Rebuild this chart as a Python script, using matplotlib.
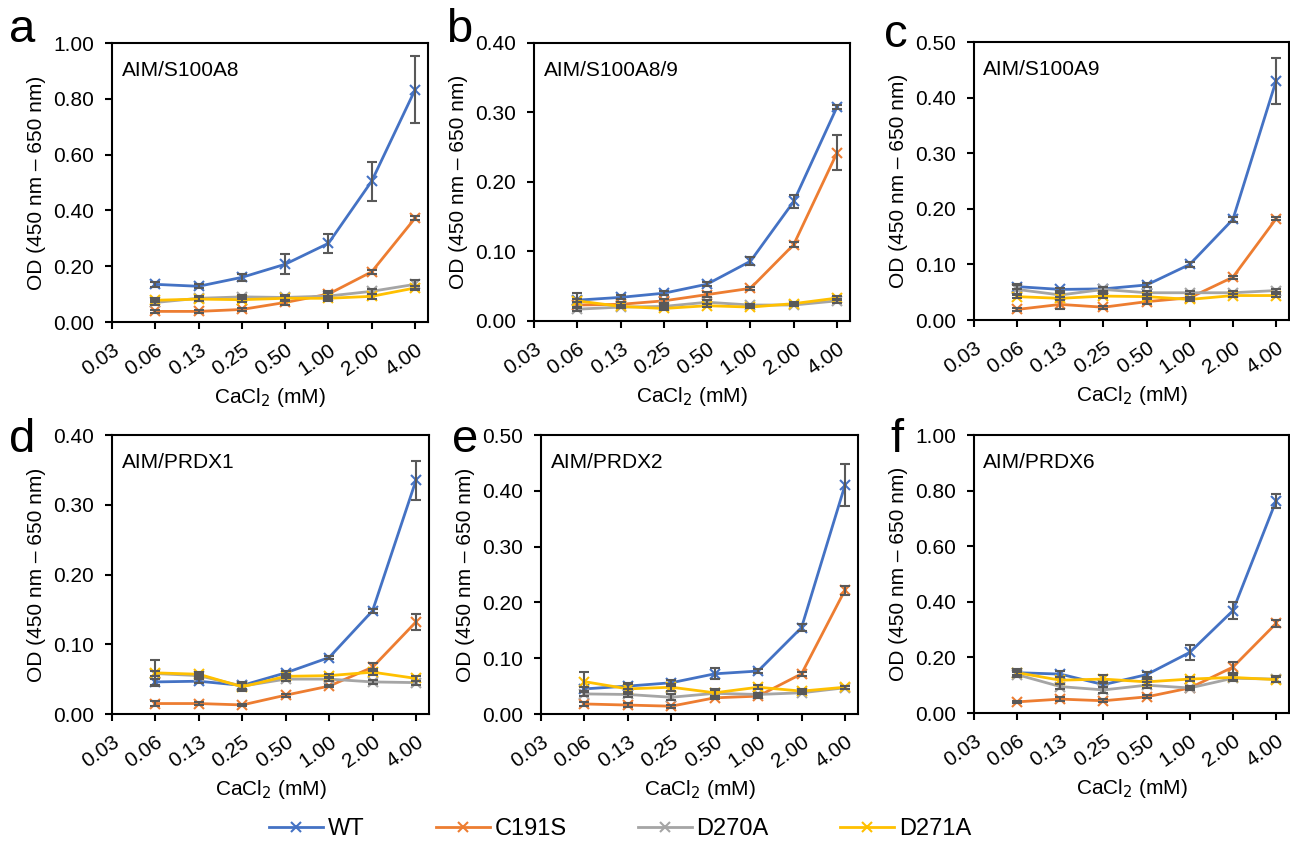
import numpy as np
import matplotlib
matplotlib.use("Agg")
import matplotlib.pyplot as plt
from matplotlib.lines import Line2D

plt.rcParams['font.family'] = ['Liberation Sans', 'DejaVu Sans']

conc_labels = ["0.03", "0.06", "0.13", "0.25", "0.50", "1.00", "2.00", "4.00"]
series = ["WT", "C191S", "D270A", "D271A"]
colors = ["#4472C4", "#ED7D31", "#A5A5A5", "#FFC000"]

titles = ["AIM/S100A8", "AIM/S100A8/9", "AIM/S100A9", "AIM/PRDX1", "AIM/PRDX2", "AIM/PRDX6"]
letters = ["a", "b", "c", "d", "e", "f"]
ymax = [1.0, 0.4, 0.5, 0.4, 0.5, 1.0]

# panel a  (mean values then error values; order WT, C191S, D270A, D271A)
a_mean = [[0.135, 0.128, 0.160, 0.207, 0.282, 0.505, 0.832],
          [0.038, 0.038, 0.045, 0.070, 0.100, 0.180, 0.372],
          [0.070, 0.085, 0.090, 0.088, 0.093, 0.110, 0.135],
          [0.078, 0.082, 0.080, 0.085, 0.085, 0.092, 0.122]]
a_err = [[0.008, 0.007, 0.013, 0.035, 0.033, 0.070, 0.120],
         [0.005, 0.004, 0.005, 0.010, 0.010, 0.008, 0.007],
         [0.010, 0.008, 0.008, 0.008, 0.010, 0.008, 0.015],
         [0.008, 0.008, 0.008, 0.008, 0.008, 0.008, 0.008]]
# panel b
b_mean = [[0.030, 0.034, 0.040, 0.053, 0.086, 0.172, 0.308],
          [0.023, 0.024, 0.029, 0.038, 0.047, 0.110, 0.242],
          [0.017, 0.020, 0.021, 0.027, 0.023, 0.023, 0.029],
          [0.029, 0.021, 0.018, 0.022, 0.020, 0.025, 0.033]]
b_err = [[0.002, 0.003, 0.003, 0.003, 0.006, 0.009, 0.003],
         [0.004, 0.003, 0.003, 0.004, 0.002, 0.003, 0.025],
         [0.003, 0.002, 0.002, 0.003, 0.002, 0.002, 0.003],
         [0.011, 0.002, 0.002, 0.002, 0.002, 0.002, 0.003]]
# panel c
c_mean = [[0.060, 0.055, 0.056, 0.063, 0.100, 0.181, 0.430],
          [0.019, 0.028, 0.023, 0.033, 0.040, 0.077, 0.182],
          [0.055, 0.045, 0.055, 0.049, 0.049, 0.049, 0.053],
          [0.042, 0.039, 0.043, 0.042, 0.037, 0.044, 0.044]]
c_err = [[0.005, 0.003, 0.004, 0.003, 0.004, 0.004, 0.042],
         [0.002, 0.008, 0.003, 0.004, 0.002, 0.003, 0.003],
         [0.008, 0.004, 0.004, 0.003, 0.003, 0.003, 0.003],
         [0.003, 0.003, 0.003, 0.003, 0.003, 0.003, 0.003]]
# panel d
d_mean = [[0.046, 0.047, 0.041, 0.059, 0.081, 0.148, 0.335],
          [0.015, 0.015, 0.013, 0.027, 0.040, 0.067, 0.132],
          [0.058, 0.055, 0.040, 0.050, 0.050, 0.046, 0.045],
          [0.059, 0.057, 0.039, 0.054, 0.055, 0.060, 0.051]]
d_err = [[0.004, 0.003, 0.005, 0.003, 0.002, 0.003, 0.028],
         [0.003, 0.002, 0.002, 0.002, 0.002, 0.006, 0.012],
         [0.004, 0.003, 0.004, 0.003, 0.003, 0.003, 0.003],
         [0.019, 0.003, 0.006, 0.003, 0.003, 0.004, 0.003]]
# panel e
e_mean = [[0.045, 0.050, 0.056, 0.072, 0.077, 0.155, 0.410],
          [0.018, 0.016, 0.014, 0.029, 0.032, 0.072, 0.222],
          [0.036, 0.035, 0.030, 0.037, 0.035, 0.038, 0.047],
          [0.058, 0.045, 0.048, 0.038, 0.048, 0.041, 0.048]]
e_err = [[0.004, 0.006, 0.005, 0.010, 0.004, 0.006, 0.038],
         [0.003, 0.003, 0.003, 0.003, 0.003, 0.004, 0.008],
         [0.004, 0.004, 0.005, 0.008, 0.003, 0.003, 0.003],
         [0.017, 0.009, 0.006, 0.005, 0.004, 0.004, 0.003]]
# panel f
f_mean = [[0.145, 0.140, 0.102, 0.138, 0.218, 0.368, 0.763],
          [0.040, 0.050, 0.044, 0.058, 0.090, 0.165, 0.322],
          [0.138, 0.095, 0.083, 0.100, 0.090, 0.125, 0.122],
          [0.145, 0.118, 0.122, 0.112, 0.122, 0.128, 0.120]]
f_err = [[0.010, 0.012, 0.010, 0.008, 0.028, 0.030, 0.025],
         [0.004, 0.006, 0.006, 0.005, 0.005, 0.020, 0.013],
         [0.010, 0.010, 0.010, 0.010, 0.008, 0.010, 0.010],
         [0.012, 0.012, 0.015, 0.010, 0.008, 0.008, 0.008]]

means = [a_mean, b_mean, c_mean, d_mean, e_mean, f_mean]
errs = [a_err, b_err, c_err, d_err, e_err, f_err]

W, H = 1290, 847
fig = plt.figure(figsize=(W / 100, H / 100), dpi=100)

# axes boxes in pixels: left, top, right, bottom
boxes = [(112, 43, 428, 322), (534, 43, 850, 321), (974, 42, 1289, 320),
         (112, 435, 429, 714), (541, 435, 858, 714), (974, 435, 1289, 713)]
# letter left edge / baseline in pixels
letter_pos = [(9, 42), (446, 42), (884, 47), (9, 452), (452, 452), (890, 452)]

fs = 15
x = np.arange(1, 8)
for i in range(6):
    l, t, r, b = boxes[i]
    ax = fig.add_axes([l / W, 1 - b / H, (r - l) / W, (b - t) / H])
    for k in range(4):
        ax.plot(x, means[i][k], color=colors[k], lw=2, marker='x', ms=7,
                mew=1.5, zorder=3)
    for k in range(4):
        ax.errorbar(x, means[i][k], yerr=errs[i][k], fmt='none',
                    ecolor='#595959', elinewidth=1.5, capsize=3.5, capthick=1.5,
                    zorder=4)
    ax.set_xlim(0, 7.3)
    ax.set_ylim(0, ymax[i])
    ax.set_xticks(range(8))
    ax.set_xticklabels(conc_labels, rotation=35, ha='right',
                       rotation_mode='anchor')
    step = 0.1 if ymax[i] <= 0.5 else 0.2
    yt = np.arange(0, ymax[i] + step / 2, step)
    ax.set_yticks(yt)
    ax.set_yticklabels(["%.2f" % v for v in yt])
    ax.tick_params(labelsize=fs, length=5, width=1.5, direction='out')
    ax.tick_params(axis='x', pad=8)
    ax.tick_params(axis='y', pad=8)
    for s in ax.spines.values():
        s.set_linewidth(1.5)
    ax.set_ylabel("OD (450 nm \u2013 650 nm)", fontsize=fs, labelpad=5)
    ax.set_xlabel("CaCl$_2$ (mM)", fontsize=fs, labelpad=5)
    ax.text(0.03, 0.9, titles[i], transform=ax.transAxes, fontsize=fs,
            va='center', ha='left')
    fig.text(letter_pos[i][0] / W, 1 - letter_pos[i][1] / H, letters[i],
             fontsize=34, va='baseline', ha='left')

handles = [Line2D([], [], color=colors[k], lw=2, marker='x', ms=7, mew=1.5)
           for k in range(4)]
fig.legend(handles, series, loc='center', bbox_to_anchor=(620 / W, 1 - 829 / H),
           ncol=4, frameon=False, fontsize=17, handlelength=2.3,
           columnspacing=3.0, handletextpad=0.2)

fig.savefig("out.png", dpi=100)
